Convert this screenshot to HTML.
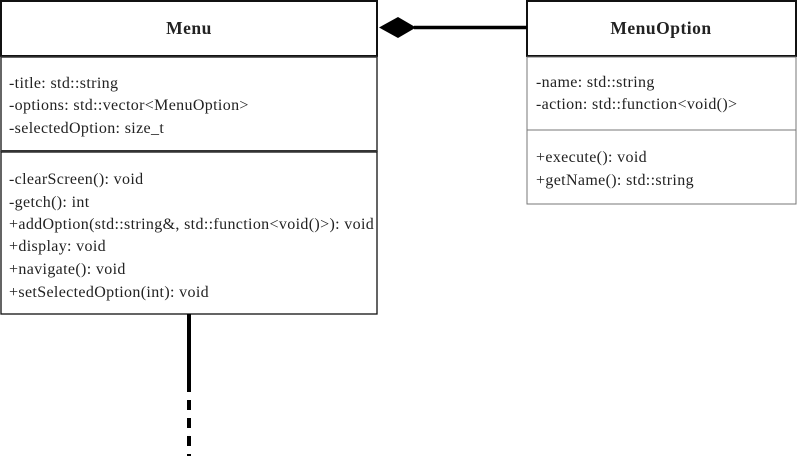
<!DOCTYPE html>
<html><head><meta charset="utf-8"><style>body{margin:0;background:#fff}svg{display:block}</style></head><body>
<svg width="797" height="456" xmlns="http://www.w3.org/2000/svg" font-family="Liberation Serif, serif" font-size="16" letter-spacing="0.35" fill="#222">
<rect x="0" y="0" width="797" height="456" fill="#fff"/>
<!-- Menu -->
<rect x="1" y="1" width="376" height="55" fill="none" stroke="#111" stroke-width="2"/>
<rect x="1" y="57" width="376" height="94" fill="none" stroke="#333" stroke-width="1.5"/>
<rect x="1" y="152" width="376" height="162" fill="none" stroke="#111" stroke-width="1.3"/>
<line x1="1" y1="151" x2="377" y2="151" stroke="#333" stroke-width="2"/>
<text x="189" y="34" text-anchor="middle" font-weight="bold" font-size="17.5" letter-spacing="0.5">Menu</text>
<text x="9" y="88">-title: std::string</text>
<text x="9" y="110">-options: std::vector&lt;MenuOption&gt;</text>
<text x="9" y="133">-selectedOption: size_t</text>
<text x="9" y="184">-clearScreen(): void</text>
<text x="9" y="207">-getch(): int</text>
<text x="9" y="229">+addOption(std::string&amp;, std::function&lt;void()&gt;): void</text>
<text x="9" y="251">+display: void</text>
<text x="9" y="274">+navigate(): void</text>
<text x="9" y="297">+setSelectedOption(int): void</text>
<!-- MenuOption -->
<rect x="527" y="1" width="269" height="55" fill="none" stroke="#111" stroke-width="2"/>
<rect x="527" y="57" width="269" height="73" fill="none" stroke="#777" stroke-width="1"/>
<rect x="527" y="130" width="269" height="74" fill="none" stroke="#777" stroke-width="1"/>
<text x="661" y="34" text-anchor="middle" font-weight="bold" font-size="17.5" letter-spacing="0.5">MenuOption</text>
<text x="536" y="87">-name: std::string</text>
<text x="536" y="109">-action: std::function&lt;void()&gt;</text>
<text x="536" y="162">+execute(): void</text>
<text x="536" y="185">+getName(): std::string</text>
<!-- composition -->
<line x1="414" y1="27.5" x2="527" y2="27.5" stroke="#000" stroke-width="3.5"/>
<polygon points="379,27.5 398,17 416,27.5 398,38" fill="#000"/>
<!-- vertical -->
<line x1="189" y1="314" x2="189" y2="392" stroke="#000" stroke-width="4"/>
<line x1="189" y1="400" x2="189" y2="456" stroke="#000" stroke-width="4" stroke-dasharray="10,8"/>
</svg>
</body></html>
